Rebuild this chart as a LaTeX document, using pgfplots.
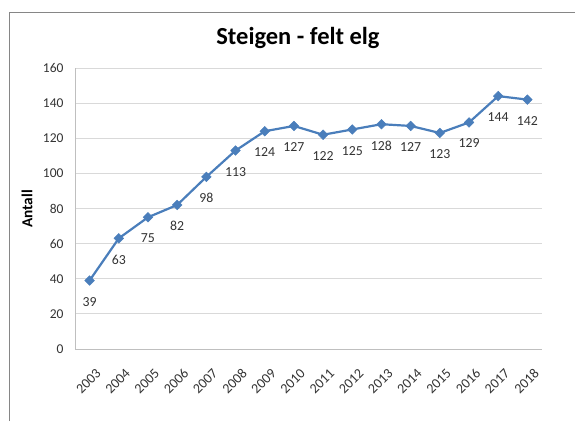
\documentclass[border=0pt]{standalone}
\usepackage{fontspec}
\setmainfont{Carlito}
\usepackage{pgfplots}
\pgfplotsset{compat=1.18}
\definecolor{serie}{HTML}{4A7EBB}
\definecolor{gridc}{HTML}{D9D9D9}
\definecolor{axc}{HTML}{BFBFBF}
\definecolor{txt}{HTML}{333333}
\definecolor{framec}{HTML}{868686}
\begin{document}
\begin{tikzpicture}
\useasboundingbox (0,0) rectangle (575pt,421pt);
\draw[color=framec, line width=0.8pt] (9pt,0pt) -- (9pt,408.5pt) -- (575pt,408.5pt);
\begin{axis}[
  at={(75pt,72pt)}, anchor=south west,
  scale only axis, width=467pt, height=281pt,
  xmin=-0.5, xmax=15.5, ymin=0, ymax=160,
  xtick={0,...,15},
  xticklabels={2003,2004,2005,2006,2007,2008,2009,2010,2011,2012,2013,2014,2015,2016,2017,2018},
  ytick={0,20,...,160},
  ymajorgrids, grid style={gridc, line width=0.8pt},
  axis x line*=bottom, axis y line*=left,
  axis line style={axc, line width=0.8pt, -},
  major tick length=0pt,
  tick style={draw=none},
  /pgf/number format/assume math mode=true,
  tick label style={font=\fontsize{13.5}{15}\selectfont, text=txt},
  yticklabel style={xshift=-8pt},
  xticklabel style={rotate=45, anchor=north east, inner sep=1pt, xshift=-8pt, yshift=-16pt, font=\fontsize{14}{15}\selectfont},
  nodes near coords,
  every node near coord/.append style={anchor=north, yshift=-13pt, font=\fontsize{13.8}{15}\selectfont, text=txt},
]
\addplot[color=serie, line width=2.2pt, mark=square*, mark size=3.4pt,
  mark options={rotate=45, fill=serie, draw=serie, line width=0.5pt}]
  coordinates {
  (0,39) (1,63) (2,75) (3,82) (4,98) (5,113) (6,124) (7,127)
  (8,122) (9,125) (10,128) (11,127) (12,123) (13,129) (14,144) (15,142)
  };
\end{axis}
\node[font=\bfseries\fontsize{24.5}{26}\selectfont] at (298pt,383pt) {Steigen - felt elg};
\node[rotate=90, font=\bfseries\fontsize{15.3}{17}\selectfont] at (27pt,212pt) {Antall};
\end{tikzpicture}
\end{document}
